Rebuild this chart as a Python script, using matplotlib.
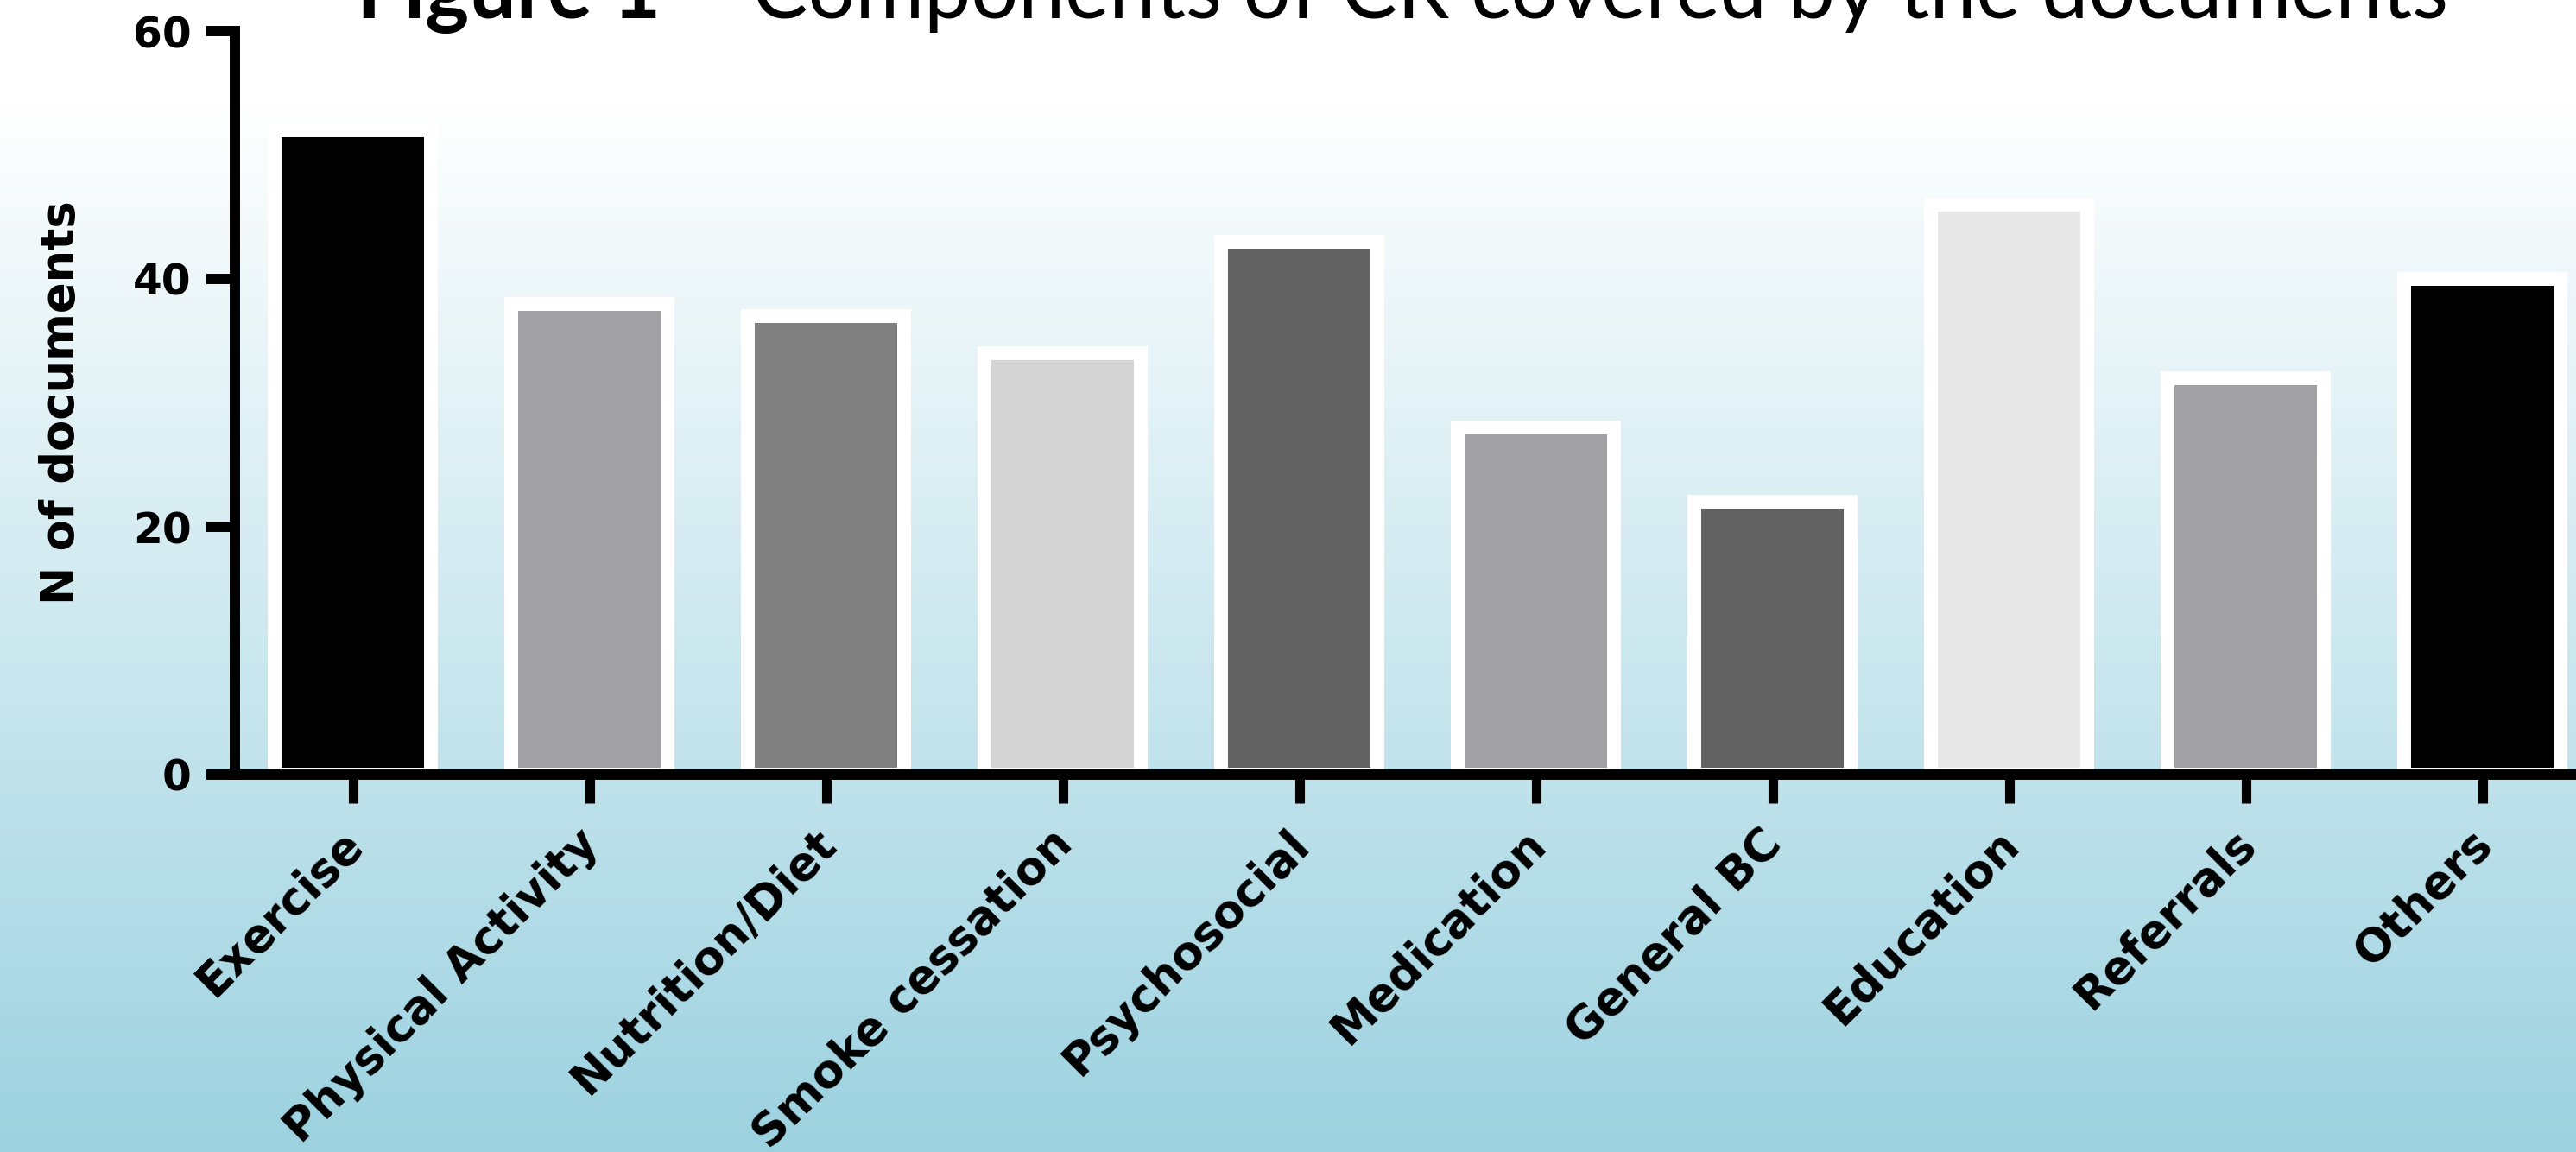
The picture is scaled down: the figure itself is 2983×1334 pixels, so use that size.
import numpy as np
import matplotlib.pyplot as plt
from matplotlib import transforms

categories = ['Exercise', 'Physical Activity', 'Nutrition/Diet', 'Smoke cessation',
              'Psychosocial', 'Medication', 'General BC', 'Education', 'Referrals', 'Others']
n_documents = [52, 38, 37, 34, 43, 28, 22, 46, 32, 40]
bar_colors = ['#000000', '#a1a1a5', '#808080', '#d4d4d4', '#626262',
              '#a1a1a5', '#626262', '#e8e8e8', '#a1a1a5', '#000000']
y_ticks = [0, 20, 40, 60]
title_bold = 'Figure 1'
title_rest = ' \u2013 Components of CR covered by the documents'

W, H = 2983, 1334
fig = plt.figure(figsize=(W / 100, H / 100), dpi=100)

# background: white at the top fading to light blue at the bottom
bg = fig.add_axes([0, 0, 1, 1], zorder=-10)
rows = np.arange(H)
t = np.clip((rows - 120) / (H - 120), 0, 1)
c_top = np.array([255, 255, 255]) / 255
c_bot = np.array([156, 210, 224]) / 255
grad = c_top + t[:, None] * (c_bot - c_top)
bg.imshow(grad[:, None, :], aspect='auto', extent=[0, 1, 0, 1], interpolation='bilinear')
bg.axis('off')

# main axes (right end runs past the figure edge, as in the original)
ax = fig.add_axes([271.5 / W, 437 / H, 2740 / W, 861 / H])
ax.patch.set_alpha(0)
x = np.arange(len(categories))
ax.bar(x, n_documents, width=0.664, color=bar_colors, edgecolor='white',
       linewidth=11.5, zorder=2)
ax.set_xlim(-0.5, 9.5)
ax.set_ylim(0, 60)

for s in ['top', 'right']:
    ax.spines[s].set_visible(False)
for s in ['left', 'bottom']:
    ax.spines[s].set_linewidth(8.6)
    ax.spines[s].set_zorder(5)

ax.set_yticks(y_ticks)
ax.set_yticklabels([str(v) for v in y_ticks], fontsize=35, fontweight='bold')
ax.tick_params(axis='y', length=24, width=8.6, pad=12)
ax.set_xticks(x)
ax.set_xticklabels(categories, fontsize=38, fontweight='bold', rotation=45,
                   ha='right', va='center', rotation_mode='anchor')
ax.tick_params(axis='x', length=24, width=8.0, pad=28)
shift = transforms.ScaledTranslation(0.03, 0, fig.dpi_scale_trans)
for lab in ax.get_xticklabels():
    lab.set_transform(lab.get_transform() + shift)

ax.set_ylabel('N of documents', fontsize=38, fontweight='bold', va='center')
ax.yaxis.set_label_coords((71 - 271.5) / 2740, 0.5)

# title: bold "Figure 1" followed by regular text, sized to the original width
fig.canvas.draw()
r = fig.canvas.get_renderer()
base = 80
t1 = fig.text(413 / W, 1 - 21 / H, title_bold, fontsize=base, fontweight='bold',
              family='Lato', ha='left', va='baseline')
t2 = fig.text(0.5, 1 - 21 / H, title_rest, fontsize=base, family='Lato',
              ha='left', va='baseline')
w_tot = t1.get_window_extent(r).width + t2.get_window_extent(r).width
fs = base * 2423 / w_tot
t1.set_fontsize(fs)
t2.set_fontsize(fs)
w1 = t1.get_window_extent(r).width
t2.set_x((413 + w1) / W)

fig.savefig('out.png', dpi=100)
